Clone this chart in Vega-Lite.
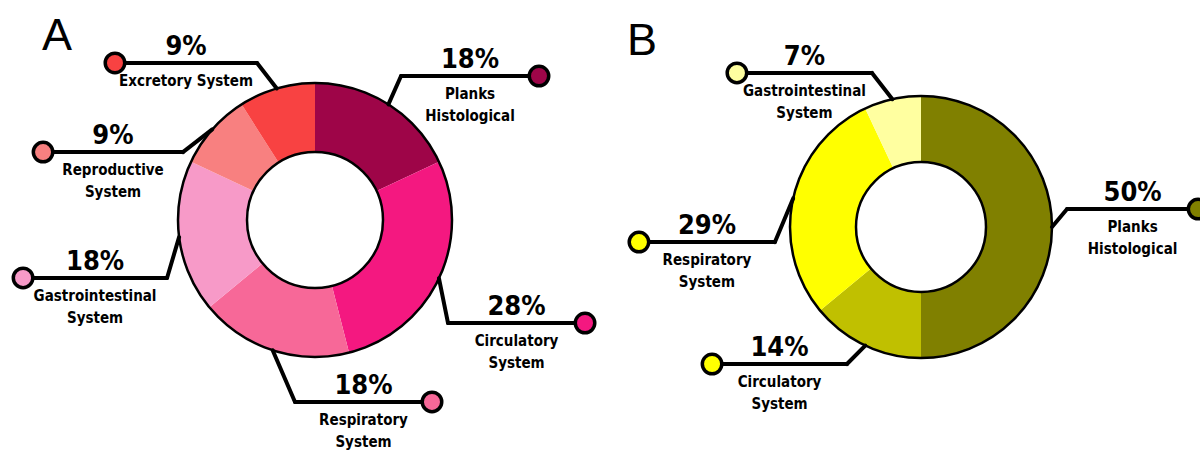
{
  "$schema": "https://vega.github.io/schema/vega-lite/v6.json",
  "padding": 0,
  "spacing": 0,
  "bounds": "flush",
  "background": "white",
  "config": {
    "view": {"stroke": null},
    "font": "Liberation Sans"
  },
  "datasets": {
    "slices": [
      {"chart": "A", "system": "Planks Histological", "pct": 18},
      {"chart": "A", "system": "Circulatory System", "pct": 28},
      {"chart": "A", "system": "Respiratory System", "pct": 18},
      {"chart": "A", "system": "Gastrointestinal System", "pct": 18},
      {"chart": "A", "system": "Reproductive System", "pct": 9},
      {"chart": "A", "system": "Excretory System", "pct": 9},
      {"chart": "B", "system": "Planks Histological", "pct": 50},
      {"chart": "B", "system": "Circulatory System", "pct": 14},
      {"chart": "B", "system": "Respiratory System", "pct": 29},
      {"chart": "B", "system": "Gastrointestinal System", "pct": 7}
    ],
    "callouts": [
      {"key": "A|Planks Histological", "label": "Planks\nHistological", "ex": 0.628, "ey": 1.051, "tx": 1.635},
      {"key": "A|Circulatory System", "label": "Circulatory\nSystem", "ex": 0.971, "ey": -0.752, "tx": 1.971},
      {"key": "A|Respiratory System", "label": "Respiratory\nSystem", "ex": -0.146, "ey": -1.328, "tx": 0.854},
      {"key": "A|Gastrointestinal System", "label": "Gastrointestinal\nSystem", "ex": -1.08, "ey": -0.423, "tx": -2.131},
      {"key": "A|Reproductive System", "label": "Reproductive\nSystem", "ex": -0.964, "ey": 0.496, "tx": -1.985},
      {"key": "A|Excretory System", "label": "Excretory System", "ex": -0.423, "ey": 1.146, "tx": -1.46},
      {"key": "B|Planks Histological", "label": "Planks\nHistological", "ex": 1.115, "ey": 0.137, "tx": 2.115},
      {"key": "B|Circulatory System", "label": "Circulatory\nSystem", "ex": -0.565, "ey": -1.046, "tx": -1.595},
      {"key": "B|Respiratory System", "label": "Respiratory\nSystem", "ex": -1.115, "ey": -0.115, "tx": -2.153},
      {"key": "B|Gastrointestinal System", "label": "Gastrointestinal\nSystem", "ex": -0.374, "ey": 1.176, "tx": -1.405}
    ]
  },
  "resolve": {"scale": {"color": "independent", "fill": "independent", "x": "independent", "y": "independent"}},
  "hconcat": [
    {
      "width": 630,
      "height": 440,
      "data": {"name": "slices"},
      "transform": [
        {"filter": "datum.chart === 'A'"},
        {"window": [{"op": "row_number", "as": "rank"}]},
        {"window": [{"op": "sum", "field": "pct", "as": "cum"}], "sort": [{"field": "rank"}], "frame": [null, 0]},
        {"joinaggregate": [{"op": "sum", "field": "pct", "as": "total"}]},
        {"calculate": "datum.chart + '|' + datum.system", "as": "key"},
        {"lookup": "key", "from": {"data": {"name": "callouts"}, "key": "key", "fields": ["label", "ex", "ey", "tx"]}},
        {"calculate": "(datum.cum - datum.pct / 2) / datum.total * 2 * PI", "as": "mid"},
        {"calculate": "sin(datum.mid)", "as": "ax"},
        {"calculate": "cos(datum.mid)", "as": "ay"},
        {"calculate": "(datum.ex + datum.tx) / 2", "as": "mx"},
        {"calculate": "datum.pct + '%'", "as": "ptxt"}
      ],
      "layer": [
        {
          "mark": {"type": "arc", "radius": 137, "radius2": 68, "stroke": null},
          "encoding": {
            "theta": {"field": "pct", "type": "quantitative", "stack": true},
            "order": {"field": "rank", "type": "quantitative"},
            "color": {"field": "system", "type": "nominal", "legend": null,
              "scale": {"domain": ["Planks Histological", "Circulatory System", "Respiratory System", "Gastrointestinal System", "Reproductive System", "Excretory System"],
                        "range": ["#9E0548", "#F41880", "#F76898", "#F79AC8", "#F88080", "#F84242"]}}
          }
        },
        {
          "transform": [{"aggregate": [{"op": "count", "as": "n"}]}],
          "mark": {"type": "arc", "radius": 137, "radius2": 68, "theta": 0, "theta2": 6.2832, "filled": false, "stroke": "black", "strokeWidth": 2.5},
          "encoding": {}
        },
        {
          "mark": {"type": "rule", "stroke": "black", "strokeWidth": 4, "strokeCap": "round"},
          "encoding": {
            "x": {"field": "ax", "type": "quantitative", "axis": null, "scale": {"domain": [-2.2993, 2.2993]}},
            "y": {"field": "ay", "type": "quantitative", "axis": null, "scale": {"domain": [-1.6058, 1.6058]}},
            "x2": {"field": "ex"},
            "y2": {"field": "ey"}
          }
        },
        {
          "mark": {"type": "rule", "stroke": "black", "strokeWidth": 4, "strokeCap": "round"},
          "encoding": {
            "x": {"field": "ex", "type": "quantitative", "axis": null, "scale": {"domain": [-2.2993, 2.2993]}},
            "y": {"field": "ey", "type": "quantitative", "axis": null, "scale": {"domain": [-1.6058, 1.6058]}},
            "x2": {"field": "tx"},
            "y2": {"field": "ey"}
          }
        },
        {
          "mark": {"type": "point", "shape": "circle", "filled": true, "size": 380, "stroke": "black", "strokeWidth": 3.5, "opacity": 1},
          "encoding": {
            "x": {"field": "tx", "type": "quantitative", "axis": null, "scale": {"domain": [-2.2993, 2.2993]}},
            "y": {"field": "ey", "type": "quantitative", "axis": null, "scale": {"domain": [-1.6058, 1.6058]}},
            "color": {"field": "system", "type": "nominal", "legend": null}
          }
        },
        {
          "mark": {"type": "text", "align": "center", "baseline": "alphabetic", "dy": -8, "fontSize": 27, "fontWeight": "bold", "font": "DejaVu Sans Condensed, DejaVu Sans", "color": "black"},
          "encoding": {
            "x": {"field": "mx", "type": "quantitative", "axis": null, "scale": {"domain": [-2.2993, 2.2993]}},
            "y": {"field": "ey", "type": "quantitative", "axis": null, "scale": {"domain": [-1.6058, 1.6058]}},
            "text": {"field": "ptxt"}
          }
        },
        {
          "mark": {"type": "text", "align": "center", "baseline": "top", "dy": 11, "lineBreak": "\n", "lineHeight": 22, "fontSize": 15, "fontWeight": "bold", "font": "DejaVu Sans Condensed, DejaVu Sans", "color": "black"},
          "encoding": {
            "x": {"field": "mx", "type": "quantitative", "axis": null, "scale": {"domain": [-2.2993, 2.2993]}},
            "y": {"field": "ey", "type": "quantitative", "axis": null, "scale": {"domain": [-1.6058, 1.6058]}},
            "text": {"field": "label"}
          }
        },
        {
          "transform": [{"aggregate": [{"op": "count", "as": "n"}], "groupby": ["chart"]}],
          "mark": {"type": "text", "align": "left", "baseline": "alphabetic", "fontSize": 45, "fontWeight": "normal", "font": "Liberation Sans", "color": "black"},
          "encoding": {
            "x": {"datum": -1.993, "type": "quantitative", "axis": null, "scale": {"domain": [-2.2993, 2.2993]}},
            "y": {"datum": 1.241, "type": "quantitative", "axis": null, "scale": {"domain": [-1.6058, 1.6058]}},
            "text": {"field": "chart"}
          }
        }
      ]
    },
    {
      "width": 582,
      "height": 454,
      "data": {"name": "slices"},
      "transform": [
        {"filter": "datum.chart === 'B'"},
        {"window": [{"op": "row_number", "as": "rank"}]},
        {"window": [{"op": "sum", "field": "pct", "as": "cum"}], "sort": [{"field": "rank"}], "frame": [null, 0]},
        {"joinaggregate": [{"op": "sum", "field": "pct", "as": "total"}]},
        {"calculate": "datum.chart + '|' + datum.system", "as": "key"},
        {"lookup": "key", "from": {"data": {"name": "callouts"}, "key": "key", "fields": ["label", "ex", "ey", "tx"]}},
        {"calculate": "(datum.cum - datum.pct / 2) / datum.total * 2 * PI", "as": "mid"},
        {"calculate": "sin(datum.mid)", "as": "ax"},
        {"calculate": "cos(datum.mid)", "as": "ay"},
        {"calculate": "(datum.ex + datum.tx) / 2", "as": "mx"},
        {"calculate": "datum.pct + '%'", "as": "ptxt"}
      ],
      "layer": [
        {
          "mark": {"type": "arc", "radius": 131, "radius2": 65, "stroke": null},
          "encoding": {
            "theta": {"field": "pct", "type": "quantitative", "stack": true},
            "order": {"field": "rank", "type": "quantitative"},
            "color": {"field": "system", "type": "nominal", "legend": null,
              "scale": {"domain": ["Planks Histological", "Circulatory System", "Respiratory System", "Gastrointestinal System"],
                        "range": ["#808000", "#C0C000", "#FFFF00", "#FFFFA0"]}}
          }
        },
        {
          "transform": [{"aggregate": [{"op": "count", "as": "n"}]}],
          "mark": {"type": "arc", "radius": 131, "radius2": 65, "theta": 0, "theta2": 6.2832, "filled": false, "stroke": "black", "strokeWidth": 2.5},
          "encoding": {}
        },
        {
          "mark": {"type": "rule", "stroke": "black", "strokeWidth": 4, "strokeCap": "round"},
          "encoding": {
            "x": {"field": "ax", "type": "quantitative", "axis": null, "scale": {"domain": [-2.2214, 2.2214]}},
            "y": {"field": "ay", "type": "quantitative", "axis": null, "scale": {"domain": [-1.7328, 1.7328]}},
            "x2": {"field": "ex"},
            "y2": {"field": "ey"}
          }
        },
        {
          "mark": {"type": "rule", "stroke": "black", "strokeWidth": 4, "strokeCap": "round"},
          "encoding": {
            "x": {"field": "ex", "type": "quantitative", "axis": null, "scale": {"domain": [-2.2214, 2.2214]}},
            "y": {"field": "ey", "type": "quantitative", "axis": null, "scale": {"domain": [-1.7328, 1.7328]}},
            "x2": {"field": "tx"},
            "y2": {"field": "ey"}
          }
        },
        {
          "mark": {"type": "point", "shape": "circle", "filled": true, "size": 380, "stroke": "black", "strokeWidth": 3.5, "opacity": 1},
          "encoding": {
            "x": {"field": "tx", "type": "quantitative", "axis": null, "scale": {"domain": [-2.2214, 2.2214]}},
            "y": {"field": "ey", "type": "quantitative", "axis": null, "scale": {"domain": [-1.7328, 1.7328]}},
            "fill": {"field": "system", "type": "nominal", "legend": null,
              "scale": {"domain": ["Planks Histological", "Circulatory System", "Respiratory System", "Gastrointestinal System"],
                        "range": ["#808000", "#FFFF00", "#FFFF00", "#FFFFA0"]}}
          }
        },
        {
          "mark": {"type": "text", "align": "center", "baseline": "alphabetic", "dy": -8, "fontSize": 27, "fontWeight": "bold", "font": "DejaVu Sans Condensed, DejaVu Sans", "color": "black"},
          "encoding": {
            "x": {"field": "mx", "type": "quantitative", "axis": null, "scale": {"domain": [-2.2214, 2.2214]}},
            "y": {"field": "ey", "type": "quantitative", "axis": null, "scale": {"domain": [-1.7328, 1.7328]}},
            "text": {"field": "ptxt"}
          }
        },
        {
          "mark": {"type": "text", "align": "center", "baseline": "top", "dy": 11, "lineBreak": "\n", "lineHeight": 22, "fontSize": 15, "fontWeight": "bold", "font": "DejaVu Sans Condensed, DejaVu Sans", "color": "black"},
          "encoding": {
            "x": {"field": "mx", "type": "quantitative", "axis": null, "scale": {"domain": [-2.2214, 2.2214]}},
            "y": {"field": "ey", "type": "quantitative", "axis": null, "scale": {"domain": [-1.7328, 1.7328]}},
            "text": {"field": "label"}
          }
        },
        {
          "transform": [{"aggregate": [{"op": "count", "as": "n"}], "groupby": ["chart"]}],
          "mark": {"type": "text", "align": "left", "baseline": "alphabetic", "fontSize": 45, "fontWeight": "normal", "font": "Liberation Sans", "color": "black"},
          "encoding": {
            "x": {"datum": -2.244, "type": "quantitative", "axis": null, "scale": {"domain": [-2.2214, 2.2214]}},
            "y": {"datum": 1.313, "type": "quantitative", "axis": null, "scale": {"domain": [-1.7328, 1.7328]}},
            "text": {"field": "chart"}
          }
        }
      ]
    }
  ]
}
